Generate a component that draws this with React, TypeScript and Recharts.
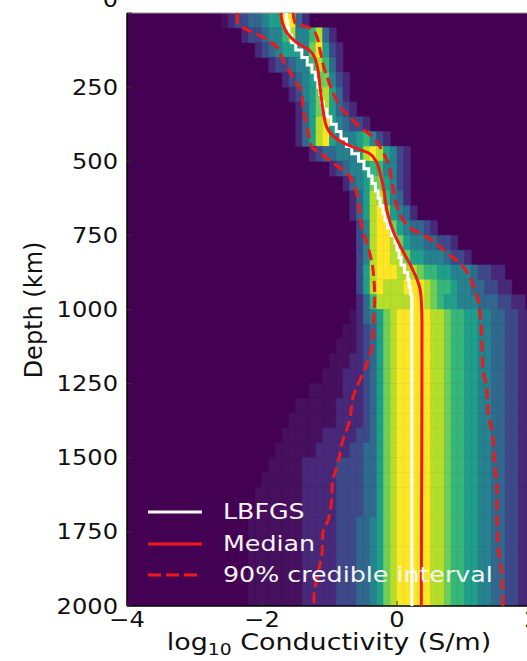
import React from 'react';
import { ScatterChart, Scatter, XAxis, YAxis, ReferenceArea, ReferenceLine } from 'recharts';

// viridis steps: '0' = background, 'h' = faint tail, '1'..'9' rising density
const LEVEL_COLORS: Record<string, string> = {
  '0': '#440154',
  h: '#46105f',
  '1': '#482878',
  '2': '#3e4989',
  '3': '#31688e',
  '4': '#26828e',
  '5': '#1f9e89',
  '6': '#35b779',
  '7': '#6ece58',
  '8': '#b5de2b',
  '9': '#fde725',
};

const X_TICKS = [-4, -2, 0, 2];
const Y_TICKS = [0, 250, 500, 750, 1000, 1250, 1500, 1750, 2000];

// posterior density, one row per depth band, one level per 0.1 of log10 conductivity from heatStart
const heatTop = [
  0, 50, 100, 150, 200, 250, 300, 350, 400, 450, 500, 550, 600, 650, 700, 750, 800, 850, 900, 950,
  1000, 1050, 1100, 1150, 1200, 1250, 1300, 1350, 1400, 1450, 1500, 1550, 1600, 1700, 1800,
];
const heatBottom = [
  50, 100, 150, 200, 250, 300, 350, 400, 450, 500, 550, 600, 650, 700, 750, 800, 850, 900, 950, 1000,
  1050, 1100, 1150, 1200, 1250, 1300, 1350, 1400, 1450, 1500, 1550, 1600, 1700, 1800, 2000,
];
const heatStart = [
  -2.6, -2.3, -2.1, -1.9, -1.7, -1.6, -1.5, -1.5, -1.5, -1.3, -1.0, -0.8, -0.7, -0.7, -0.6, -0.6, -0.6, -0.6, -0.6, -0.6,
  -0.7, -0.8, -0.9, -1.0, -1.1, -1.3, -1.5, -1.6, -1.7, -1.8, -1.9, -2.0, -2.1, -2.2, -2.2,
];
const heatLevels = [
  'h122334559931',
  '12234468446831',
  '1234555479521',
  '12234468631',
  '1234577421',
  '124578531',
  '135785321',
  '13589543221',
  '13589544456421',
  '123344458985421',
  '123445664421',
  '1345775421',
  '135886431',
  '1358985431',
  '248997543321',
  '248998754433221',
  '24899887554443221',
  '2589998887665544432211',
  '25898889998766544332211',
  '1368888899876554443332211',
  'h13457899999887665544332211',
  'hh12357899999887665544332211',
  'hhh12357899999887665544332211',
  'hhh112357899999887665544332211',
  'hhh1112357899999887665544332211',
  'hhhhh1112357899999887665544332211',
  'hhhhhh11112357899999887665544332211',
  'hhhhhhh11112357899999887665544332211',
  'hhhhhh1111122357899999887665544332211',
  'hhhhhh11111223357899999887665544332211',
  'hhhhh1111122223357899999887665544332211',
  'hhhhhh1111122223357899999887665544332211',
  'hhhhhhh1111122223357899999887665544332211',
  'hhhhhhhh1111122233457899999887665544332211',
  'hhhhhhhh1111122233457899999887665544332211',
];

// LBFGS layered model (layer top depth, value)
const lbfgsDepth = [0, 25, 50, 75, 100, 125, 150, 175, 200, 225, 250, 275, 300, 325, 350, 375, 400, 425, 450, 475, 500, 525, 550, 575, 600, 625, 650, 675, 700, 725, 750, 775, 800, 825, 850, 875, 900, 925, 950, 2000];
const lbfgsValue = [-1.64, -1.62, -1.6, -1.56, -1.5, -1.41, -1.33, -1.26, -1.21, -1.17, -1.14, -1.12, -1.09, -1.04, -0.98, -0.9, -0.83, -0.75, -0.67, -0.57, -0.49, -0.42, -0.37, -0.32, -0.28, -0.25, -0.21, -0.18, -0.14, -0.08, -0.03, 0.0, 0.03, 0.06, 0.11, 0.16, 0.18, 0.2, 0.22, 0.22];

const medianDepth = [0, 30, 67, 101, 125, 150, 182, 250, 320, 385, 420, 440, 455, 472, 500, 540, 590, 675, 740, 800, 860, 920, 970, 1050, 2000];
const medianValue = [-1.72, -1.7, -1.63, -1.48, -1.3, -1.22, -1.18, -1.14, -1.1, -1.04, -0.92, -0.78, -0.62, -0.42, -0.31, -0.25, -0.2, -0.14, -0.05, 0.08, 0.22, 0.33, 0.36, 0.37, 0.36];

const lowerDepth = [0, 34, 57, 81, 115, 159, 216, 270, 327, 384, 452, 472, 506, 540, 573, 631, 722, 789, 857, 968, 1012, 1126, 1180, 1238, 1295, 1373, 1440, 1531, 1575, 1666, 1710, 1754, 1821, 1889, 1970, 2000];
const lowerValue = [-2.37, -2.36, -2.22, -1.99, -1.78, -1.69, -1.54, -1.41, -1.39, -1.33, -1.26, -1.14, -0.95, -0.74, -0.65, -0.58, -0.52, -0.43, -0.36, -0.33, -0.34, -0.37, -0.44, -0.55, -0.65, -0.7, -0.8, -0.89, -0.95, -0.98, -1.02, -1.1, -1.11, -1.17, -1.23, -1.23];

const upperDepth = [0, 34, 47, 67, 125, 169, 226, 283, 317, 351, 384, 418, 452, 496, 587, 654, 698, 732, 755, 809, 843, 890, 944, 968, 1012, 1126, 1204, 1261, 1349, 1416, 1531, 1599, 1686, 1801, 1912, 2000];
const upperValue = [-1.54, -1.51, -1.33, -1.21, -1.14, -1.1, -1.02, -0.92, -0.84, -0.7, -0.55, -0.36, -0.25, -0.15, -0.06, 0.0, 0.09, 0.24, 0.44, 0.74, 0.93, 1.08, 1.16, 1.2, 1.23, 1.26, 1.27, 1.33, 1.35, 1.41, 1.45, 1.48, 1.48, 1.5, 1.56, 1.57];

const FONT = 'DejaVu Sans';
const RED = '#f01818';

const r1 = (n: number) => Math.round(n * 10) / 10;

const heatCells = heatTop.flatMap((top, r) =>
  heatLevels[r].split('').map((ch, k) => ({
    x1: r1(heatStart[r] + k * 0.1),
    x2: r1(heatStart[r] + (k + 1) * 0.1),
    y1: top,
    y2: heatBottom[r],
    color: LEVEL_COLORS[ch],
  }))
);

const toPoints = (depth: number[], value: number[]) => depth.map((d, i) => ({ d, v: value[i] }));
const lbfgs = toPoints(lbfgsDepth, lbfgsValue);
const median = toPoints(medianDepth, medianValue);
const lower = toPoints(lowerDepth, lowerValue);
const upper = toPoints(upperDepth, upperValue);

const noDot = () => <g />;

const XTick = (props: any) => {
  const { x, y, payload } = props;
  const v = payload.value;
  const label = v < 0 ? `\u2212${Math.abs(v)}` : `${v}`;
  return (
    <g>
      <line x1={x} y1={y} x2={x} y2={y - 5} stroke="#333" strokeWidth={1} />
      <text transform={`translate(${x},${y + 21}) scale(1.15,1)`} textAnchor="middle" fontSize={21} fontFamily={FONT} fill="#111">
        {label}
      </text>
    </g>
  );
};

const YTick = (props: any) => {
  const { x, y, payload } = props;
  const shift = payload.value === 0 ? -14 : 0;
  return (
    <g>
      <line x1={x} y1={y} x2={x + 5} y2={y} stroke="#333" strokeWidth={1} />
      <text transform={`translate(${x - 9},${y + 7.5 + shift}) scale(1.15,1)`} textAnchor="end" fontSize={21} fontFamily={FONT} fill="#111">
        {payload.value}
      </text>
    </g>
  );
};

const XLabel = () => (
  <text transform="translate(329,650) scale(1.17,1)" textAnchor="middle" fontSize={23} fontFamily={FONT} fill="#111">
    <tspan>log</tspan>
    <tspan fontSize={16} dy={5}>10</tspan>
    <tspan dy={-5}> Conductivity (S/m)</tspan>
  </text>
);

const YLabel = () => (
  <text transform="translate(42,310) rotate(-90)" textAnchor="middle" fontSize={24} fontFamily={FONT} fill="#111">
    Depth (km)
  </text>
);

const legendItems = [
  { label: 'LBFGS', color: '#ffffff', dash: undefined, top: 512 },
  { label: 'Median', color: RED, dash: undefined, top: 544 },
  { label: '90% credible interval', color: RED, dash: '13 5', top: 575 },
];

function ChartLegend() {
  return (
    <>
      {legendItems.map((item) => (
        <div
          key={item.label}
          style={{ position: 'absolute', left: 148, top: item.top - 12, height: 24, display: 'flex', alignItems: 'center' }}
        >
          <svg width={54} height={6} style={{ display: 'block' }}>
            <line x1={0} y1={3} x2={54} y2={3} stroke={item.color} strokeWidth={3} strokeDasharray={item.dash} />
          </svg>
          <span
            style={{
              marginLeft: 21,
              fontFamily: FONT,
              fontSize: 22,
              lineHeight: '24px',
              color: '#f4f4f4',
              whiteSpace: 'nowrap',
              display: 'inline-block',
              transform: 'scaleX(1.15)',
              transformOrigin: 'left center',
            }}
          >
            {item.label}
          </span>
        </div>
      ))}
    </>
  );
}

export default function App() {
  return (
    <div style={{ position: 'absolute', left: 0, top: 0, width: 527, height: 661, overflow: 'hidden', background: '#fff' }}>
      <ScatterChart width={545} height={661} margin={{ top: 13, right: 13, bottom: 25, left: 0 }}>
        <XAxis
          type="number"
          dataKey="v"
          domain={[-4, 2]}
          ticks={X_TICKS}
          interval={0}
          allowDataOverflow
          height={30}
          tickSize={0}
          tickMargin={0}
          tick={XTick}
          axisLine={{ stroke: '#000', strokeWidth: 1.5 }}
          label={{ content: XLabel }}
        />
        <YAxis
          type="number"
          dataKey="d"
          domain={[0, 2000]}
          reversed
          ticks={Y_TICKS}
          interval={0}
          allowDataOverflow
          width={127}
          tickSize={0}
          tickMargin={0}
          tick={YTick}
          axisLine={{ stroke: '#000', strokeWidth: 1.5 }}
          label={{ content: YLabel }}
        />
        <ReferenceArea x1={-4} x2={2} y1={0} y2={2000} fill={LEVEL_COLORS['0']} fillOpacity={1} stroke="none" ifOverflow="hidden" />
        {heatCells.map((c, i) => (
          <ReferenceArea
            key={`cell-${i}`}
            x1={c.x1}
            x2={c.x2}
            y1={c.y1}
            y2={c.y2}
            fill={c.color}
            fillOpacity={1}
            stroke={c.color}
            strokeWidth={0.6}
            ifOverflow="hidden"
          />
        ))}
        <ReferenceLine y={0} stroke="#999" strokeWidth={1} />
        <Scatter
          data={lower}
          shape={noDot}
          line={{ stroke: RED, strokeWidth: 3, strokeDasharray: '11 5' }}
          lineJointType="monotoneY"
          isAnimationActive={false}
        />
        <Scatter
          data={upper}
          shape={noDot}
          line={{ stroke: RED, strokeWidth: 3, strokeDasharray: '11 5' }}
          lineJointType="monotoneY"
          isAnimationActive={false}
        />
        <Scatter
          data={lbfgs}
          shape={noDot}
          line={{ stroke: '#ffffff', strokeWidth: 3 }}
          lineJointType="stepBefore"
          isAnimationActive={false}
        />
        <Scatter
          data={median}
          shape={noDot}
          line={{ stroke: RED, strokeWidth: 3 }}
          lineJointType="monotoneY"
          isAnimationActive={false}
        />
      </ScatterChart>
      <ChartLegend />
    </div>
  );
}
